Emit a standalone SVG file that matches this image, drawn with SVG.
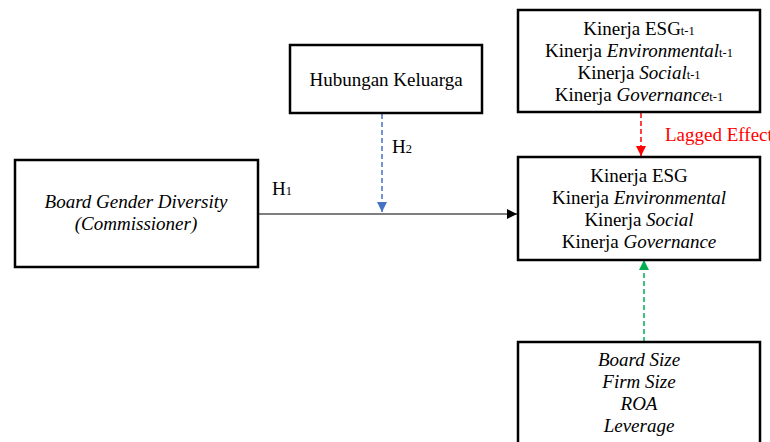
<svg xmlns="http://www.w3.org/2000/svg" width="770" height="442" viewBox="0 0 770 442">
<style>
text{font-family:"Liberation Serif","Times New Roman",serif;font-size:19px;fill:#000;text-anchor:middle}
.i{font-style:italic}
.s{font-size:12.5px}
.box{fill:#fff;stroke:#000;stroke-width:2.5}
</style>
<defs>
<marker id="ak" viewBox="0 0 10 10" refX="10" refY="5" markerWidth="10" markerHeight="10" markerUnits="userSpaceOnUse" orient="auto"><path d="M0,0L10,5L0,10z" fill="#000"/></marker>
<marker id="ab" viewBox="0 0 10 10" refX="10" refY="5" markerWidth="10" markerHeight="10" markerUnits="userSpaceOnUse" orient="auto"><path d="M0,0L10,5L0,10z" fill="#4472c4"/></marker>
<marker id="ar" viewBox="0 0 10 10" refX="10" refY="5" markerWidth="10" markerHeight="10" markerUnits="userSpaceOnUse" orient="auto"><path d="M0,0L10,5L0,10z" fill="#ff0000"/></marker>
<marker id="ag" viewBox="0 0 10 10" refX="10" refY="5" markerWidth="10" markerHeight="10" markerUnits="userSpaceOnUse" orient="auto"><path d="M0,0L10,5L0,10z" fill="#00b050"/></marker>
</defs>
<g id="connectors">
<line x1="258" y1="214" x2="517" y2="214" stroke="#000" stroke-width="1.2" marker-end="url(#ak)"/>
<line x1="382" y1="114" x2="382" y2="212" stroke="#4472c4" stroke-width="1.5" stroke-dasharray="5,3" marker-end="url(#ab)"/>
<line x1="641" y1="113" x2="641" y2="156" stroke="#ff0000" stroke-width="1.5" stroke-dasharray="5,3" marker-end="url(#ar)"/>
<line x1="644" y1="342" x2="644" y2="260" stroke="#00b050" stroke-width="1.5" stroke-dasharray="5,3" marker-end="url(#ag)"/>
<text x="272" y="195" style="text-anchor:start">H<tspan class="s">1</tspan></text>
<text x="392" y="153" style="text-anchor:start">H<tspan class="s">2</tspan></text>
<text x="665" y="141" style="text-anchor:start;fill:#ff0000">Lagged Effect</text>
</g>
<g id="lagged">
<rect class="box" x="518" y="10" width="242" height="102"/>
<text x="639" y="35">Kinerja ESG<tspan class="s">t-1</tspan></text>
<text x="639" y="57">Kinerja <tspan class="i">Environmental</tspan><tspan class="s">t-1</tspan></text>
<text x="639" y="79">Kinerja <tspan class="i">Social</tspan><tspan class="s">t-1</tspan></text>
<text x="639" y="101">Kinerja <tspan class="i">Governance</tspan><tspan class="s">t-1</tspan></text>
</g>
<g id="hubungan">
<rect class="box" x="290" y="45" width="192" height="68"/>
<text x="386" y="86">Hubungan Keluarga</text>
</g>
<g id="bgd">
<rect class="box" x="15" y="160" width="243" height="107"/>
<text class="i" x="136" y="208">Board Gender Diversity</text>
<text class="i" x="136" y="230">(Commissioner)</text>
</g>
<g id="esg">
<rect class="box" x="518" y="157" width="242" height="103"/>
<text x="639" y="182">Kinerja ESG</text>
<text x="639" y="204">Kinerja <tspan class="i">Environmental</tspan></text>
<text x="639" y="226">Kinerja <tspan class="i">Social</tspan></text>
<text x="639" y="248">Kinerja <tspan class="i">Governance</tspan></text>
</g>
<g id="controls">
<rect class="box" x="518" y="342" width="242" height="110"/>
<text class="i" x="639" y="366">Board Size</text>
<text class="i" x="639" y="388">Firm Size</text>
<text class="i" x="639" y="410">ROA</text>
<text class="i" x="639" y="432">Leverage</text>
</g>
</svg>
